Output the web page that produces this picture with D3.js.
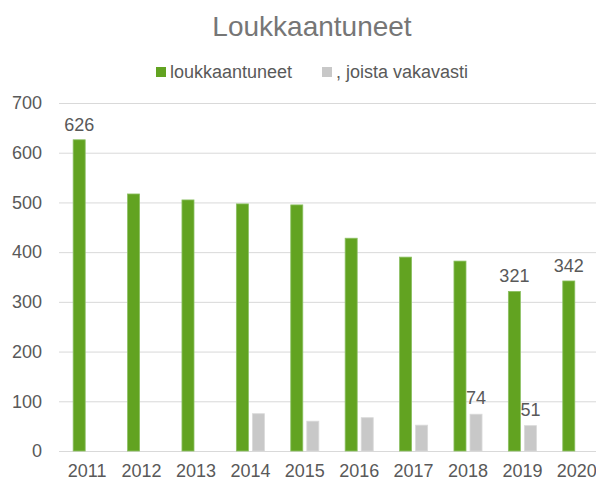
<!DOCTYPE html>
<html>
<head>
  <meta charset="utf-8">
  <title>Loukkaantuneet</title>
  <style>
    body { margin: 0; background: #fff; }
    svg text { font-family: "Liberation Sans", Arial, sans-serif; }
  </style>
</head>
<body>
<div id="chart"></div>
<script src="https://cdn.jsdelivr.net/npm/d3@7"></script>
<script>
// data
const years = ["2011","2012","2013","2014","2015","2016","2017","2018","2019","2020"];
const injured = [626, 517, 505, 497, 495, 428, 390, 382, 321, 342];
const severe = [null, null, null, 75, 60, 67, 52, 74, 51, null];
const yTicks = [0, 100, 200, 300, 400, 500, 600, 700];
// which bars carry a value label
const injuredLabels = ["2011", "2019", "2020"];
const severeLabels = ["2018", "2019"];

const width = 596, height = 480;
const green = "#62a321", grey = "#c8c8c8";

const svg = d3.select("#chart").append("svg")
  .attr("width", width)
  .attr("height", height);

const x = d3.scaleBand()
  .domain(years)
  .range([60, 604])
  .paddingInner(0.484)
  .paddingOuter(0.242);

const xs = d3.scaleBand()
  .domain(["g", "v"])
  .range([0, x.bandwidth()])
  .paddingInner(0.25);

const y = d3.scaleLinear()
  .domain([0, 700])
  .range([451, 103]);

//******* gridlines + y labels *******
const yAxis = svg.append("g")
  .attr("transform", "translate(59,0)")
  .call(d3.axisLeft(y).tickValues(yTicks).tickSize(-(width - 59)).tickPadding(17));
yAxis.select(".domain").remove();
yAxis.selectAll("line").attr("stroke", "#d9d9d9").attr("stroke-width", 1);
yAxis.selectAll("text")
  .attr("fill", "#595959")
  .style("font-size", "18px");

//******* x labels *******
const xAxis = svg.append("g")
  .attr("transform", "translate(0,451)")
  .call(d3.axisBottom(x).tickSize(0).tickPadding(13));
xAxis.select(".domain").attr("stroke", "#d9d9d9");
xAxis.selectAll("text")
  .attr("fill", "#595959")
  .style("font-size", "18px");

//******* bars *******
const groups = svg.selectAll(".year")
  .data(years)
  .enter().append("g")
  .attr("class", "year")
  .attr("transform", d => `translate(${x(d)},0)`);

groups.append("rect")
  .attr("x", xs("g"))
  .attr("width", xs.bandwidth())
  .attr("y", (d, i) => y(injured[i]))
  .attr("height", (d, i) => y(0) - y(injured[i]))
  .attr("fill", green)
  .attr("stroke", "#8cc063")
  .attr("stroke-width", 0.8);

groups.filter((d, i) => severe[i] != null)
  .append("rect")
  .attr("x", xs("v"))
  .attr("width", xs.bandwidth())
  .attr("y", d => y(severe[years.indexOf(d)]))
  .attr("height", d => y(0) - y(severe[years.indexOf(d)]))
  .attr("fill", grey)
  .attr("stroke", "#dadada")
  .attr("stroke-width", 0.8);

//******* value labels *******
groups.filter(d => injuredLabels.includes(d))
  .append("text")
  .attr("x", xs("g") + xs.bandwidth() / 2)
  .attr("y", d => y(injured[years.indexOf(d)]) - 9)
  .attr("text-anchor", "middle")
  .attr("fill", "#595959")
  .style("font-size", "18px")
  .text(d => injured[years.indexOf(d)]);

groups.filter(d => severeLabels.includes(d))
  .append("text")
  .attr("x", xs("v") + xs.bandwidth() / 2)
  .attr("y", d => y(severe[years.indexOf(d)]) - 10)
  .attr("text-anchor", "middle")
  .attr("fill", "#595959")
  .style("font-size", "18px")
  .text(d => severe[years.indexOf(d)]);

//******* title + legend *******
svg.append("text")
  .attr("x", 312)
  .attr("y", 36)
  .attr("text-anchor", "middle")
  .attr("fill", "#767676")
  .style("font-size", "28px")
  .text("Loukkaantuneet");

const legend = [
  { name: "loukkaantuneet", color: green, x: 156 },
  { name: ", joista vakavasti", color: grey, x: 322 }
];
const lg = svg.selectAll(".legend")
  .data(legend)
  .enter().append("g")
  .attr("class", "legend")
  .attr("transform", d => `translate(${d.x},67)`);
lg.append("rect")
  .attr("width", 10)
  .attr("height", 10)
  .attr("fill", d => d.color);
lg.append("text")
  .attr("x", 14)
  .attr("y", 11)
  .attr("fill", "#595959")
  .style("font-size", "18px")
  .text(d => d.name);
</script>
</body>
</html>
